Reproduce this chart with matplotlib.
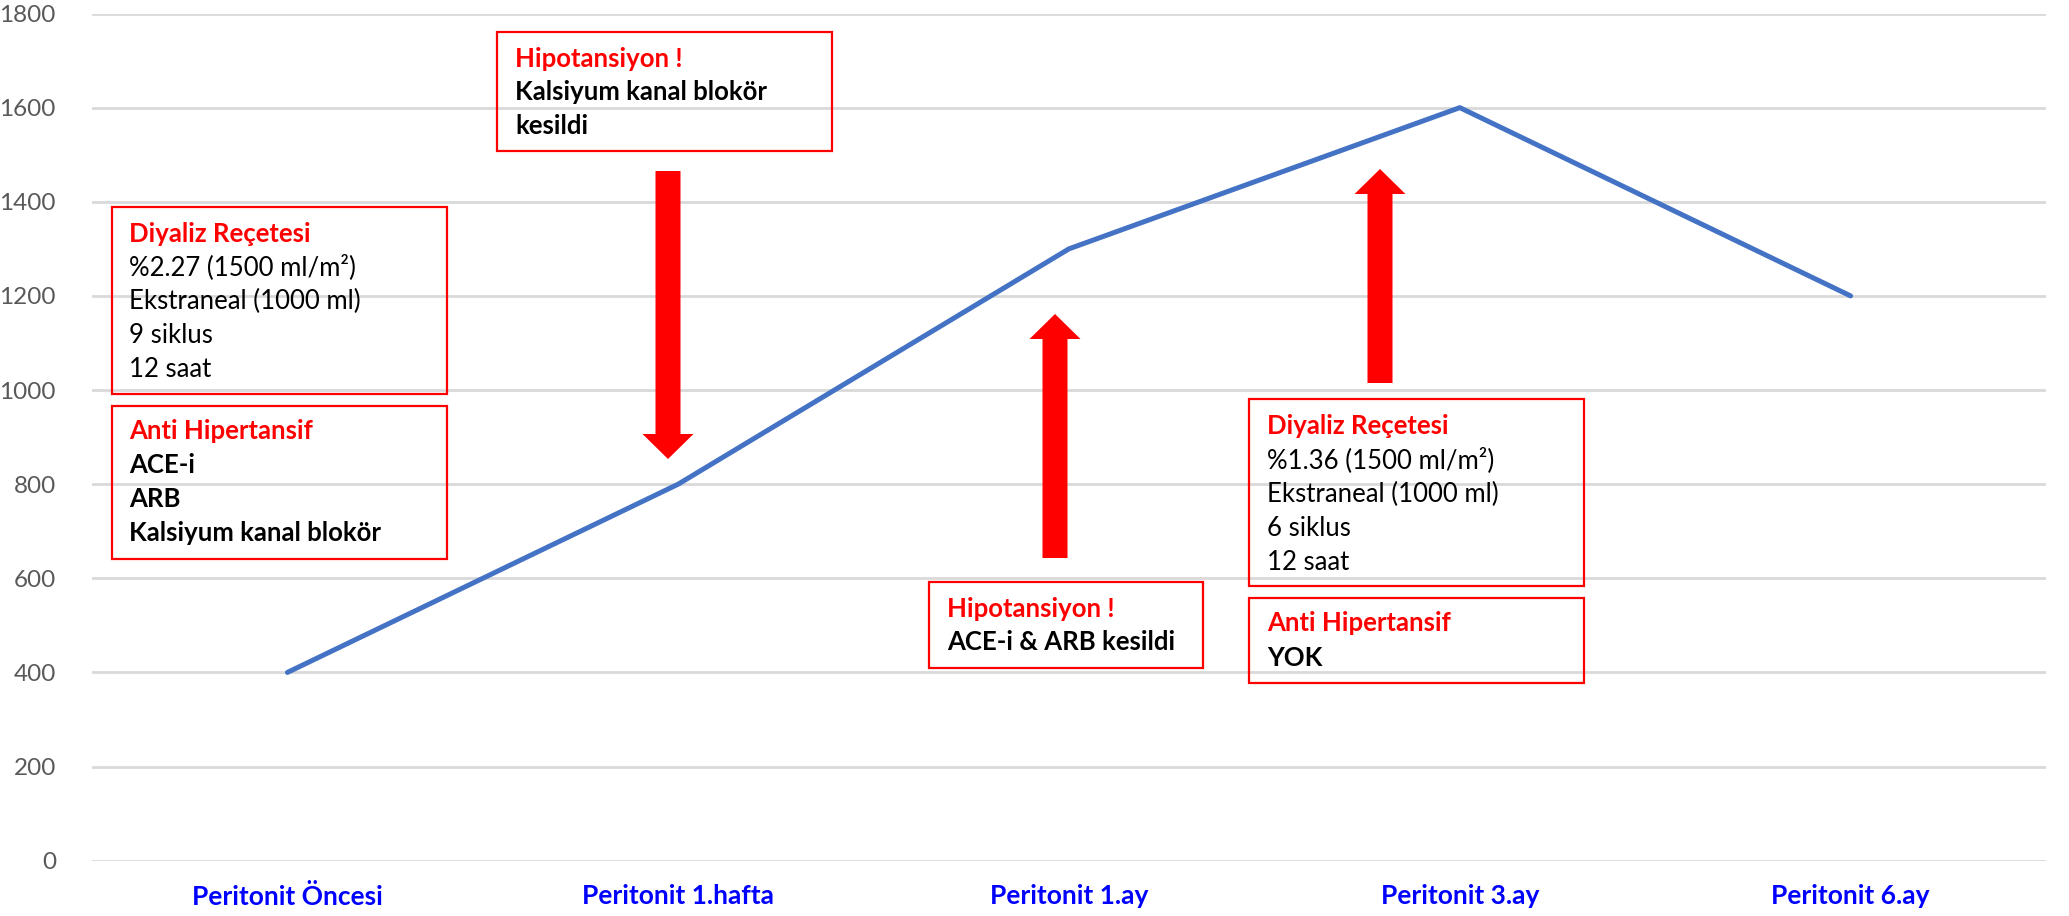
import matplotlib
matplotlib.use("Agg")
import matplotlib.pyplot as plt
from matplotlib.patches import Rectangle, Polygon

# ---------------- data ----------------
categories = ["Peritonit Öncesi", "Peritonit 1.hafta", "Peritonit 1.ay",
              "Peritonit 3.ay", "Peritonit 6.ay"]
values = [400, 800, 1300, 1600, 1200]
y_ticks = [0, 200, 400, 600, 800, 1000, 1200, 1400, 1600, 1800]

box1_title = "Diyaliz Reçetesi"
box1_lines = ["%2.27 (1500 ml/m²)", "Ekstraneal (1000 ml)", "9 siklus", "12 saat"]
box2_title = "Anti Hipertansif"
box2_lines = ["ACE-i", "ARB", "Kalsiyum kanal blokör"]
box3_title = "Hipotansiyon !"
box3_lines = ["Kalsiyum kanal blokör", "kesildi"]
box4_title = "Hipotansiyon !"
box4_lines = ["ACE-i & ARB kesildi"]
box5_title = "Diyaliz Reçetesi"
box5_lines = ["%1.36 (1500 ml/m²)", "Ekstraneal (1000 ml)", "6 siklus", "12 saat"]
box6_title = "Anti Hipertansif"
box6_lines = ["YOK"]

# ---------------- figure ----------------
W, H = 2069, 916
plt.rcParams['font.family'] = ['Lato', 'DejaVu Sans']
fig = plt.figure(figsize=(W / 100, H / 100), dpi=100)
ax_left, ax_right, ax_top, ax_bottom = 92, 2046, 13.5, 860.7
ax = fig.add_axes([ax_left / W, 1 - ax_bottom / H,
                   (ax_right - ax_left) / W, (ax_bottom - ax_top) / H])

x = list(range(len(categories)))
ax.plot(x, values, color="#4472C4", lw=3.6, solid_capstyle="round",
        solid_joinstyle="round", zorder=3)
ax.set_xlim(-0.5, len(categories) - 0.5)
ax.set_ylim(0, 1800)
ax.set_yticks(y_ticks)
ax.set_yticklabels([str(v) for v in y_ticks])
ax.set_xticks(x)
ax.set_xticklabels(categories)
ax.yaxis.grid(True, color="#D9D9D9", lw=2.0)
ax.set_axisbelow(True)
for s in ax.spines.values():
    s.set_visible(False)
ax.tick_params(axis="y", length=0, pad=26, labelsize=17.5, labelcolor="#595959")
ax.tick_params(axis="x", length=0, pad=17, labelsize=19, labelcolor="#0000FF")
for lbl in ax.get_xticklabels():
    lbl.set_fontweight("bold")

# ---------------- annotations (pixel layout) ----------------
def fx(px):
    return px / W

def fy(py):
    return 1 - py / H

def draw_box(x0, y0, x1, y1, tx, base0, title, lines, bold_body, step=33.8, fs=18.5):
    fig.patches.append(Rectangle((fx(x0), fy(y1)), fx(x1) - fx(x0), fy(y0) - fy(y1),
                                 transform=fig.transFigure, fill=False,
                                 edgecolor="#FF0000", lw=1.6, zorder=5))
    fig.text(fx(tx), fy(base0), title, color="#FF0000", fontsize=fs,
             fontweight="bold", va="baseline", ha="left")
    for i, ln in enumerate(lines):
        fig.text(fx(tx), fy(base0 + step * (i + 1)), ln, color="black", fontsize=fs,
                 fontweight="bold" if bold_body else "normal", va="baseline", ha="left")

draw_box(112, 206.7, 446.7, 394, 129, 241.7, box1_title, box1_lines, False)
draw_box(112, 406, 446.7, 559, 129, 439.3, box2_title, box2_lines, True)
draw_box(497, 32, 832, 151, 515, 66.7, box3_title, box3_lines, True, step=33.5)
draw_box(929, 582, 1203, 668, 947, 616.7, box4_title, box4_lines, True)
draw_box(1249, 399, 1584, 586, 1267, 434.3, box5_title, box5_lines, False)
draw_box(1249, 598, 1584, 683, 1267, 631, box6_title, box6_lines, True, step=35)

def draw_arrow(cx, tail, tip, shaft=25, head=51, head_len=25):
    d = 1 if tip > tail else -1
    hb = tip - d * head_len
    pts = [(cx - shaft / 2, tail), (cx + shaft / 2, tail), (cx + shaft / 2, hb),
           (cx + head / 2, hb), (cx, tip), (cx - head / 2, hb), (cx - shaft / 2, hb)]
    fig.patches.append(Polygon([(fx(a), fy(b)) for a, b in pts], closed=True,
                               transform=fig.transFigure, facecolor="#FF0000",
                               edgecolor="none", zorder=5))

draw_arrow(668, 171, 459)
draw_arrow(1055, 558, 314)
draw_arrow(1380, 383, 169)

fig.savefig("out.png", dpi=100)
